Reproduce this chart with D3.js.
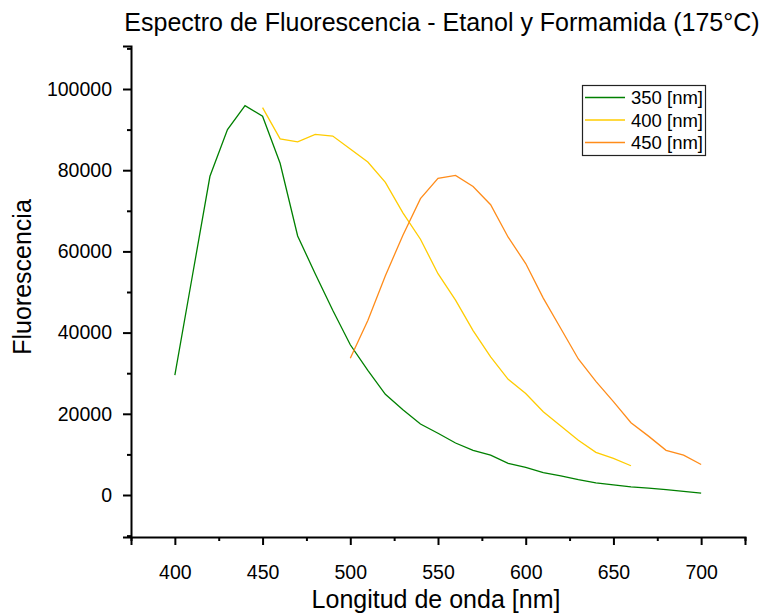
<!DOCTYPE html>
<html><head><meta charset="utf-8">
<script src="https://cdn.jsdelivr.net/npm/d3@7"></script>
<style>body{margin:0;background:#fff;} svg{display:block;font-family:"Liberation Sans",Arial,sans-serif;}</style>
</head><body>
<script>
const title = "Espectro de Fluorescencia - Etanol y Formamida (175°C)";
const xLabel = "Longitud de onda [nm]";
const yLabel = "Fluorescencia";
const seriesNames = ["350 [nm]", "400 [nm]", "450 [nm]"];
const seriesColors = ["#008000", "#FFCC00", "#FF8C1A"];
const xTicks = [400, 450, 500, 550, 600, 650, 700];
const yTicks = [0, 20000, 40000, 60000, 80000, 100000];

const wl350 = [400,410,420,430,440,450,460,470,480,490,500,510,520,530,540,550,560,570,580,590,600,610,620,630,640,650,660,670,680,690,700];
const v350 = [29500,54000,78500,90000,95900,93300,81700,63800,54500,45500,37000,30700,24800,21000,17500,15200,12800,11000,9800,7800,6800,5500,4700,3800,3000,2500,2000,1700,1300,900,450];
const wl400 = [450,460,470,480,490,500,510,520,530,540,550,560,570,580,590,600,610,620,630,640,650,660];
const v400 = [95400,87700,87000,88800,88400,85200,82000,77000,69500,63000,54500,48000,40500,34000,28500,25000,20500,17000,13500,10500,9000,7200];
const wl450 = [500,510,520,530,540,550,560,570,580,590,600,610,620,630,640,650,660,670,680,690,700];
const v450 = [33700,43000,54000,64000,73000,78000,78700,76000,71500,63500,57000,48500,41000,33500,28000,23000,17800,14500,11000,9800,7500];

const W = 768, H = 615;
const svg = d3.select("body").append("svg").attr("width", W).attr("height", H);

const x = d3.scaleLinear().domain([375, 725]).range([131, 745]);
const y0 = 495, y100k = 89;
const pxPer = (y0 - y100k) / 100000;
const y = d3.scaleLinear().domain([-(537 - y0) / pxPer, (y0 - 46) / pxPer]).range([537, 46]);

// axes
const xAxisMajor = d3.axisBottom(x).tickValues(xTicks).tickSize(8).tickFormat(d3.format("d"));
const xAxisMinor = d3.axisBottom(x).tickValues([375,425,475,525,575,625,675,725]).tickSize(4).tickFormat("");
const yAxisMajor = d3.axisLeft(y).tickValues(yTicks).tickSize(8).tickFormat(d3.format("d"));
const yAxisMinor = d3.axisLeft(y).tickValues([-10000,10000,30000,50000,70000,90000,110000].filter(v => v >= y.domain()[0] && v <= y.domain()[1])).tickSize(4).tickFormat("");

function styleAxis(g) {
  g.select(".domain").attr("stroke", "#000").attr("stroke-width", 2);
  g.selectAll(".tick line").attr("stroke", "#000").attr("stroke-width", 2);
  g.selectAll(".tick text").attr("fill", "#000").style("font-size", "19.5px").style("font-family", "Liberation Sans, Arial, sans-serif");
}
const gx = svg.append("g").attr("transform", "translate(0,537)").call(xAxisMajor).call(styleAxis);
gx.selectAll(".tick text").attr("y", 0).attr("dy", 0).attr("transform", "translate(0,42)");
svg.append("g").attr("transform", "translate(0,537)").call(xAxisMinor).call(styleAxis).select(".domain").remove();
const gy = svg.append("g").attr("transform", "translate(131,0)").call(yAxisMajor).call(styleAxis);
gy.selectAll(".tick text").attr("x", -19);
svg.append("g").attr("transform", "translate(131,0)").call(yAxisMinor).call(styleAxis).select(".domain").remove();

// lines
const allSeries = [
  {name: seriesNames[0], color: seriesColors[0], wl: wl350, v: v350},
  {name: seriesNames[1], color: seriesColors[1], wl: wl400, v: v400},
  {name: seriesNames[2], color: seriesColors[2], wl: wl450, v: v450}
];
const line = d3.line().x(d => x(d[0])).y(d => y(d[1]));
allSeries.forEach(s => {
  svg.append("path").datum(s.wl.map((w, i) => [w, s.v[i]]))
    .attr("d", line).attr("fill", "none").attr("stroke", s.color).attr("stroke-width", 1.3);
});

// titles
svg.append("text").attr("x", 442).attr("y", 31).attr("text-anchor", "middle").style("font-size", "25px").attr("fill", "#000").text(title);
svg.append("text").attr("x", 436).attr("y", 608).attr("text-anchor", "middle").style("font-size", "25px").attr("fill", "#000").text(xLabel);
svg.append("text").attr("transform", "translate(31,277) rotate(-90)").attr("text-anchor", "middle").style("font-size", "25px").attr("fill", "#000").text(yLabel);

// legend
const lg = svg.append("g");
lg.append("rect").attr("x", 582.5).attr("y", 85.5).attr("width", 123).attr("height", 70).attr("fill", "#fff").attr("stroke", "#222").attr("stroke-width", 1.2);
allSeries.forEach((s, i) => {
  const ly = 97.5 + i * 22.5;
  lg.append("line").attr("x1", 585).attr("x2", 625).attr("y1", ly).attr("y2", ly).attr("stroke", s.color).attr("stroke-width", 1.3);
  lg.append("text").attr("x", 631).attr("y", ly + 6.5).style("font-size", "18.5px").attr("fill", "#000").text(s.name);
});
</script>
</body></html>
